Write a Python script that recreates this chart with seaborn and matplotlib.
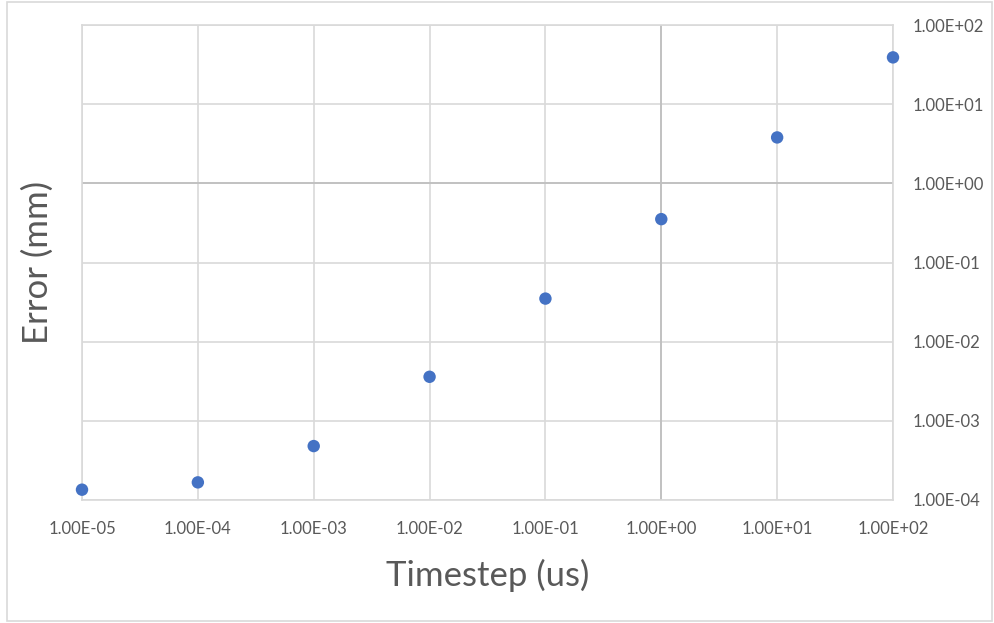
import pandas as pd
import matplotlib.pyplot as plt
import seaborn as sns
from matplotlib.patches import Rectangle
from matplotlib.ticker import FixedLocator, NullLocator

# values
timestep = [1e-5, 1e-4, 1e-3, 1e-2, 1e-1, 1e0, 1e1, 1e2]
error = [1.35e-4, 1.67e-4, 4.8e-4, 3.6e-3, 3.5e-2, 0.353, 3.8, 39.0]
x_ticks = [1e-5, 1e-4, 1e-3, 1e-2, 1e-1, 1e0, 1e1, 1e2]
y_ticks = [1e-4, 1e-3, 1e-2, 1e-1, 1e0, 1e1, 1e2]

def excel_sci(v):
    s = f"{v:.2E}"
    mant, exp = s.split("E")
    sign = exp[0]
    return f"{mant}E{sign}{abs(int(exp)):02d}"

df = pd.DataFrame({"Timestep": timestep, "Error": error})

sns.set_style("white")
plt.rcParams['font.family'] = ['Lato', 'DejaVu Sans']

fig = plt.figure(figsize=(9.95, 6.23), dpi=100)
ax = fig.add_axes([82 / 995, 123 / 623, 811 / 995, 475 / 623])

sns.scatterplot(data=df, x="Timestep", y="Error", ax=ax, color="#4472C4",
                s=80, edgecolor="none", zorder=3, clip_on=False)

ax.set_xscale("log")
ax.set_yscale("log")
ax.set_xlim(1e-5, 1e2)
ax.set_ylim(1e-4, 1e2)

ax.xaxis.set_major_locator(FixedLocator(x_ticks))
ax.yaxis.set_major_locator(FixedLocator(y_ticks))
ax.xaxis.set_minor_locator(NullLocator())
ax.yaxis.set_minor_locator(NullLocator())
ax.set_xticklabels([excel_sci(v) for v in x_ticks])
ax.set_yticklabels([excel_sci(v) for v in y_ticks])
ax.yaxis.tick_right()
ax.tick_params(axis="both", length=0, labelsize=12, labelcolor="#595959")
ax.tick_params(axis="x", pad=15)
ax.tick_params(axis="y", pad=14)

ax.grid(True, color="#d9d9d9", linewidth=1.2)
ax.axvline(1e0, color="#bfbfbf", linewidth=1.3, zorder=1)
ax.axhline(1e0, color="#bfbfbf", linewidth=1.3, zorder=1)
for sp in ax.spines.values():
    sp.set_color("#d9d9d9")
    sp.set_linewidth(1.2)

ax.set_xlabel("Timestep (us)", fontsize=25, color="#595959", labelpad=16)
ax.set_ylabel("Error (mm)", fontsize=25, color="#595959", labelpad=20)
ax.yaxis.set_label_position("left")

fig.patches.append(Rectangle((7 / 995, 2 / 623), 985 / 995, 619 / 623,
                             transform=fig.transFigure, fill=False,
                             edgecolor="#d9d9d9", linewidth=1.2))

fig.savefig("out.png", dpi=100)
